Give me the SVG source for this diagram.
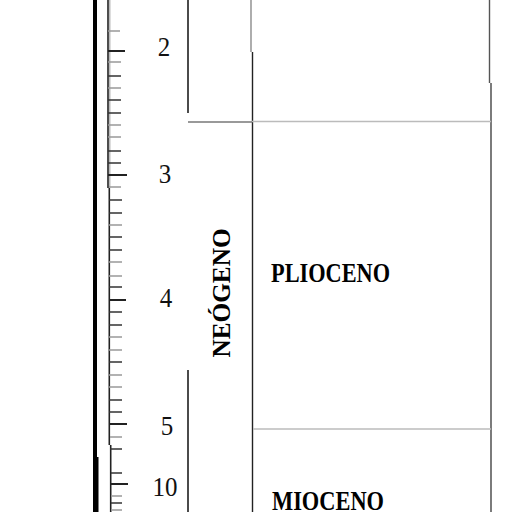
<svg xmlns="http://www.w3.org/2000/svg" width="512" height="512" viewBox="0 0 512 512">
<style>
.t{stroke:#333;stroke-width:1.4}
.g{stroke:#999;stroke-width:1.4}
.num{font-family:"Liberation Serif",serif;font-size:25px;fill:#111;text-anchor:middle}
.lab{font-family:"Liberation Serif",serif;font-weight:bold;font-size:23px;fill:#000}
</style>
<rect width="512" height="512" fill="#fff"/>
<g id="axis">
<rect x="93" y="0" width="4" height="457" fill="#000"/>
<rect x="93" y="457" width="5.5" height="55" fill="#000"/>
<rect x="109" y="0" width="1.5" height="188" fill="#bbb"/>
<path d="M108 0V188M109.3 188V445M110.7 445V512" stroke="#222" stroke-width="1.6" fill="none"/>
</g>
<g id="ticks">
<path class="g" d="M108 31H120M108 62H121M108 88H121M108 125H121M108 137H121M109 187H121M109 225H122M109 262H122M109 276H122M109 337H122M109 350H122M109 375H122M109 387H122M110 437H122M111 496H122M111 510H122"/>
<path class="t" d="M108 76H121M108 100H121M108 113H121M108 151H121M108 163H121M109 200H122M109 213H122M109 237H122M109 250H122M109 287H122M109 312H122M109 325H122M109 362H122M109 400H122M109 412H122M110 449H122M111 473H122M111 503H122"/>
<path d="M108 51H125M108 175H127M109 300H126M109 424H127M111 484H128" stroke="#222" stroke-width="1.8"/>
</g>
<g id="numbers">
<text class="num" transform="translate(164,56) scale(1,1.12)">2</text>
<text class="num" transform="translate(165,183) scale(1,1.12)">3</text>
<text class="num" transform="translate(166,307) scale(1,1.12)">4</text>
<text class="num" transform="translate(167,435) scale(1,1.12)">5</text>
<text class="num" transform="translate(165,496) scale(1,1.12)">10</text>
</g>
<g id="lines" fill="none">
<path d="M188 0V113M188 370V512" stroke="#111" stroke-width="1.5"/>
<path d="M251 0V52" stroke="#777" stroke-width="1.2"/>
<path d="M252.5 52V512" stroke="#222" stroke-width="1.4"/>
<path d="M489.5 0V83" stroke="#555" stroke-width="1.4"/>
<path d="M491 83V512" stroke="#444" stroke-width="1.4"/>
<path d="M188 122H252" stroke="#777" stroke-width="1.3"/>
<path d="M252 121.5H491" stroke="#bbb" stroke-width="1.3"/>
<path d="M253 429H491" stroke="#bbb" stroke-width="1.3"/>
</g>
<g id="neogeno">
<text class="lab" transform="translate(230,293) rotate(-90) scale(1,1.12)" text-anchor="middle" font-size="25" textLength="129" lengthAdjust="spacingAndGlyphs">NEÓGENO</text>
</g>
<g id="plioceno">
<text class="lab" transform="translate(271,282) scale(1,1.15)" textLength="119" lengthAdjust="spacingAndGlyphs">PLIOCENO</text>
</g>
<g id="mioceno">
<text class="lab" transform="translate(272,510) scale(1,1.15)" textLength="112" lengthAdjust="spacingAndGlyphs">MIOCENO</text>
</g>
</svg>
